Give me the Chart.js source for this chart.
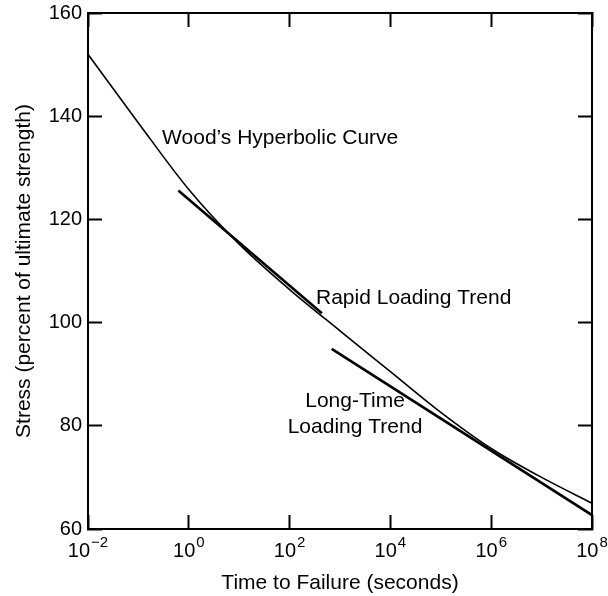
<!DOCTYPE html>
<html>
<head>
<meta charset="utf-8">
<script src="https://cdn.jsdelivr.net/npm/chart.js@4.4.1/dist/chart.umd.min.js"></script>
<style>
  html, body { margin: 0; padding: 0; background: #fff; }
  canvas { display: block; }
</style>
</head>
<body>
<canvas id="stressChart" width="608" height="596"></canvas>
<script>
// Wood's hyperbolic curve, sampled once per decade
const woodTime = [1e-2, 1e-1, 1e0, 1e1, 1e2, 1e3, 1e4, 1e5, 1e6, 1e7, 1e8];
const woodStress = [152, 138.7, 125.8, 115.2, 106.4, 98.4, 90.5, 82.6, 75.6, 70.0, 65.0];

// straight trend lines (end points)
const rapidTime = [0.62, 437];
const rapidStress = [125.6, 101.8];
const longTime = [684, 1e8];
const longStress = [94.9, 62.7];

// axis ticks; x labels are drawn as 10 with a raised exponent
const xTickValues = [1e-2, 1e0, 1e2, 1e4, 1e6, 1e8];
const xTickBase = '10';
const xTickPowers = ['\u22122', '0', '2', '4', '6', '8'];
const yTickValues = [60, 80, 100, 120, 140, 160];

const FONT = "'Liberation Sans', Arial, Helvetica, sans-serif";

function points(xs, ys) {
    return xs.map(function (x, i) { return { x: x, y: ys[i] }; });
}

// inward tick marks shared by all four axes
const frameGrid = {
    drawOnChartArea: false,
    tickLength: -14,
    tickWidth: 2,
    tickColor: '#000'
};
const frameBorder = { display: true, color: '#000', width: 2 };

function fixTicks(values) {
    return function (scale) {
        scale.ticks = values.map(function (v) { return { value: v }; });
    };
}

// fixed axis sizes, no extra room for overhanging tick labels
function fitSize(w, h) {
    return function (s) {
        if (w !== null) s.width = w;
        if (h !== null) s.height = h;
        s.paddingLeft = 0;
        s.paddingRight = 0;
        s.paddingTop = 0;
        s.paddingBottom = 0;
    };
}

// powers of ten under the bottom axis
const powerLabels = {
    id: 'powerLabels',
    afterDraw: function (chart) {
        const ctx = chart.ctx;
        const xs = chart.scales.x;
        const baseY = chart.chartArea.bottom + 28;
        ctx.save();
        ctx.fillStyle = '#000';
        ctx.textBaseline = 'alphabetic';
        ctx.textAlign = 'left';
        xTickValues.forEach(function (v, i) {
            ctx.font = '20px ' + FONT;
            const w1 = ctx.measureText(xTickBase).width;
            ctx.font = '15px ' + FONT;
            const w2 = ctx.measureText(xTickPowers[i]).width;
            const left = xs.getPixelForValue(v) - (w1 + w2 + 1) / 2;
            ctx.font = '20px ' + FONT;
            ctx.fillText(xTickBase, left, baseY);
            ctx.font = '15px ' + FONT;
            ctx.fillText(xTickPowers[i], left + w1 + 1, baseY - 10);
        });
        ctx.restore();
    }
};

// text labels placed next to the curves
const curveLabels = {
    id: 'curveLabels',
    afterDatasetsDraw: function (chart) {
        const ctx = chart.ctx;
        const x = chart.scales.x;
        const y = chart.scales.y;
        ctx.save();
        ctx.fillStyle = '#000';
        ctx.font = '21px ' + FONT;
        ctx.textBaseline = 'middle';
        ctx.textAlign = 'left';
        ctx.fillText('Wood\u2019s Hyperbolic Curve', x.getPixelForValue(0.295), y.getPixelForValue(135.8));
        ctx.fillText('Rapid Loading Trend', x.getPixelForValue(334), y.getPixelForValue(104.7));
        ctx.textAlign = 'center';
        ctx.fillText('Long-Time', x.getPixelForValue(1986), y.getPixelForValue(84.7));
        ctx.fillText('Loading Trend', x.getPixelForValue(1986), y.getPixelForValue(79.7));
        ctx.restore();
    }
};

document.addEventListener('DOMContentLoaded', function () {
    const ctx = document.getElementById('stressChart').getContext('2d');
    new Chart(ctx, {
        type: 'line',
        data: {
            datasets: [{
                label: 'Wood\u2019s Hyperbolic Curve',
                data: points(woodTime, woodStress),
                borderColor: '#000',
                borderWidth: 1.6,
                cubicInterpolationMode: 'monotone',
                pointRadius: 0
            }, {
                label: 'Rapid Loading Trend',
                data: points(rapidTime, rapidStress),
                borderColor: '#000',
                borderWidth: 2.6,
                pointRadius: 0
            }, {
                label: 'Long-Time Loading Trend',
                data: points(longTime, longStress),
                borderColor: '#000',
                borderWidth: 2.6,
                pointRadius: 0
            }]
        },
        options: {
            responsive: false,
            animation: false,
            layout: {
                padding: { top: 13, right: 16, left: 0, bottom: 0 }
            },
            plugins: {
                legend: { display: false },
                tooltip: { enabled: false }
            },
            scales: {
                x: {
                    type: 'logarithmic',
                    position: 'bottom',
                    min: 1e-2,
                    max: 1e8,
                    afterBuildTicks: fixTicks(xTickValues),
                    afterFit: fitSize(null, 67),
                    grid: frameGrid,
                    border: frameBorder,
                    ticks: { display: false },
                    title: {
                        display: true,
                        text: 'Time to Failure (seconds)',
                        color: '#000',
                        font: { family: FONT, size: 21 },
                        padding: { top: 0, bottom: 0 }
                    }
                },
                x2: {
                    type: 'logarithmic',
                    position: 'top',
                    min: 1e-2,
                    max: 1e8,
                    afterBuildTicks: fixTicks(xTickValues),
                    afterFit: fitSize(null, 0),
                    grid: frameGrid,
                    border: frameBorder,
                    ticks: { display: false }
                },
                y: {
                    type: 'linear',
                    position: 'left',
                    min: 60,
                    max: 160,
                    afterBuildTicks: fixTicks(yTickValues),
                    afterFit: fitSize(88, null),
                    grid: frameGrid,
                    border: frameBorder,
                    ticks: {
                        padding: 20,
                        color: '#000',
                        font: { family: FONT, size: 20 }
                    },
                    title: {
                        display: true,
                        text: 'Stress (percent of ultimate strength)',
                        color: '#000',
                        font: { family: FONT, size: 21 },
                        padding: { top: 12, bottom: 0 }
                    }
                },
                y2: {
                    type: 'linear',
                    position: 'right',
                    min: 60,
                    max: 160,
                    afterBuildTicks: fixTicks(yTickValues),
                    afterFit: fitSize(0, null),
                    grid: frameGrid,
                    border: frameBorder,
                    ticks: { display: false }
                }
            }
        },
        plugins: [curveLabels, powerLabels]
    });
});
</script>
</body>
</html>
